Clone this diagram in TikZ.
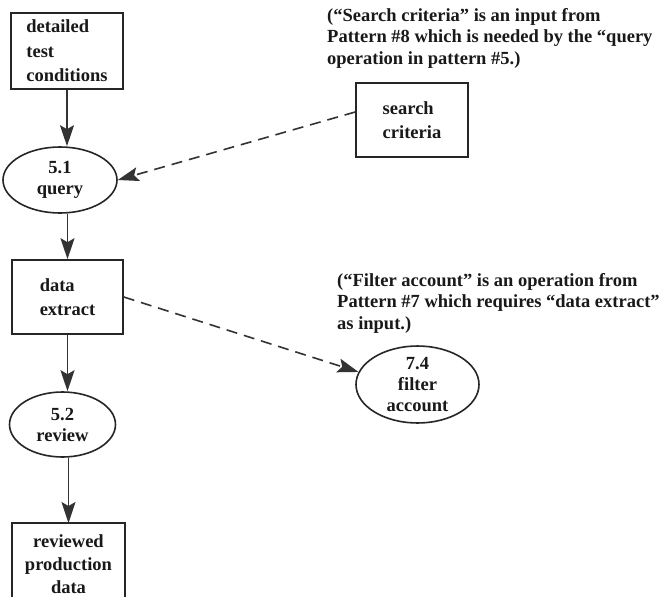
\documentclass[tikz,border=0pt]{standalone}
\usepackage{fontspec}
\setmainfont{Liberation Serif}
\usetikzlibrary{arrows.meta,shapes.geometric}
\begin{document}
\begin{tikzpicture}[x=1pt,y=-1pt,
  lbl/.style={font=\bfseries\fontsize{18.5}{24.5}\selectfont, text=black!90},
  store/.style={lbl, draw=black!85, line width=1.6pt, rectangle, align=left, inner sep=0pt},
  proc/.style={lbl, draw=black!85, line width=1.6pt, ellipse, align=center, inner sep=0pt,
    font=\bfseries\fontsize{18.5}{21}\selectfont},
  note/.style={font=\bfseries\fontsize{18.5}{21.5}\selectfont, text=black!90, align=left, inner sep=0pt, anchor=north west},
  flow/.style={draw=black!80, line width=1.6pt, -{Stealth[length=21pt,width=14pt,inset=4pt]}},
  ref/.style={flow, dash pattern=on 11pt off 7pt}]
\useasboundingbox (0,0) rectangle (667,597);
\clip (0,0) rectangle (667,597);
\fill[white] (0,0) rectangle (667,597);

% data stores and processes of the main flow
\node[store, minimum width=112pt, minimum height=76pt] (dtc) at (67,51) {detailed\\test\\conditions};
\node[proc, minimum width=114pt, minimum height=66pt] (q51) at (60,180) {5.1\\query};
\node[store, minimum width=111pt, minimum height=74pt] (de) at (67.5,297) {data\\extract};
\node[proc, minimum width=106pt, minimum height=65pt] (r52) at (62.5,424.5) {5.2\\review};
% output store, running past the lower edge of the sheet
\draw[draw=black!85, line width=1.6pt] (12,523) rectangle (125,640);
\node[lbl, align=center, inner sep=0pt, anchor=north,
  font=\bfseries\fontsize{18.5}{23}\selectfont] (rpd) at (68.5,534) {reviewed\\production\\data};

% items borrowed from other patterns
\node[store, minimum width=112pt, minimum height=74pt] (sc) at (412,120) {search\\criteria};
\node[proc, minimum width=123pt, minimum height=73pt] (fa) at (417.5,384.5) {7.4\\filter\\account};

% explanatory notes
\node[note] (n1) at (327,8) {(“Search criteria” is an input from\\Pattern \#8 which is needed by the “query\\operation in pattern \#5.)};
\node[note] (n2) at (337,273) {(“Filter account” is an operation from\\Pattern \#7 which requires “data extract”\\as input.)};

% main flow
\draw[flow] (dtc.south) -- (dtc.south |- q51.north);
\draw[flow] (q51.south -| de.north) -- (de.north);
\draw[flow] (de.south) -- (de.south |- r52.north);
\coordinate (rtop) at (rpd.north |- 0,523);
\draw[flow] (r52.south -| rtop) -- (rtop);

% cross-pattern links
\draw[ref] ([yshift=8pt]sc.west) -- (q51.east);
\draw[ref] (de.east) -- (fa.168);
\end{tikzpicture}
\end{document}
